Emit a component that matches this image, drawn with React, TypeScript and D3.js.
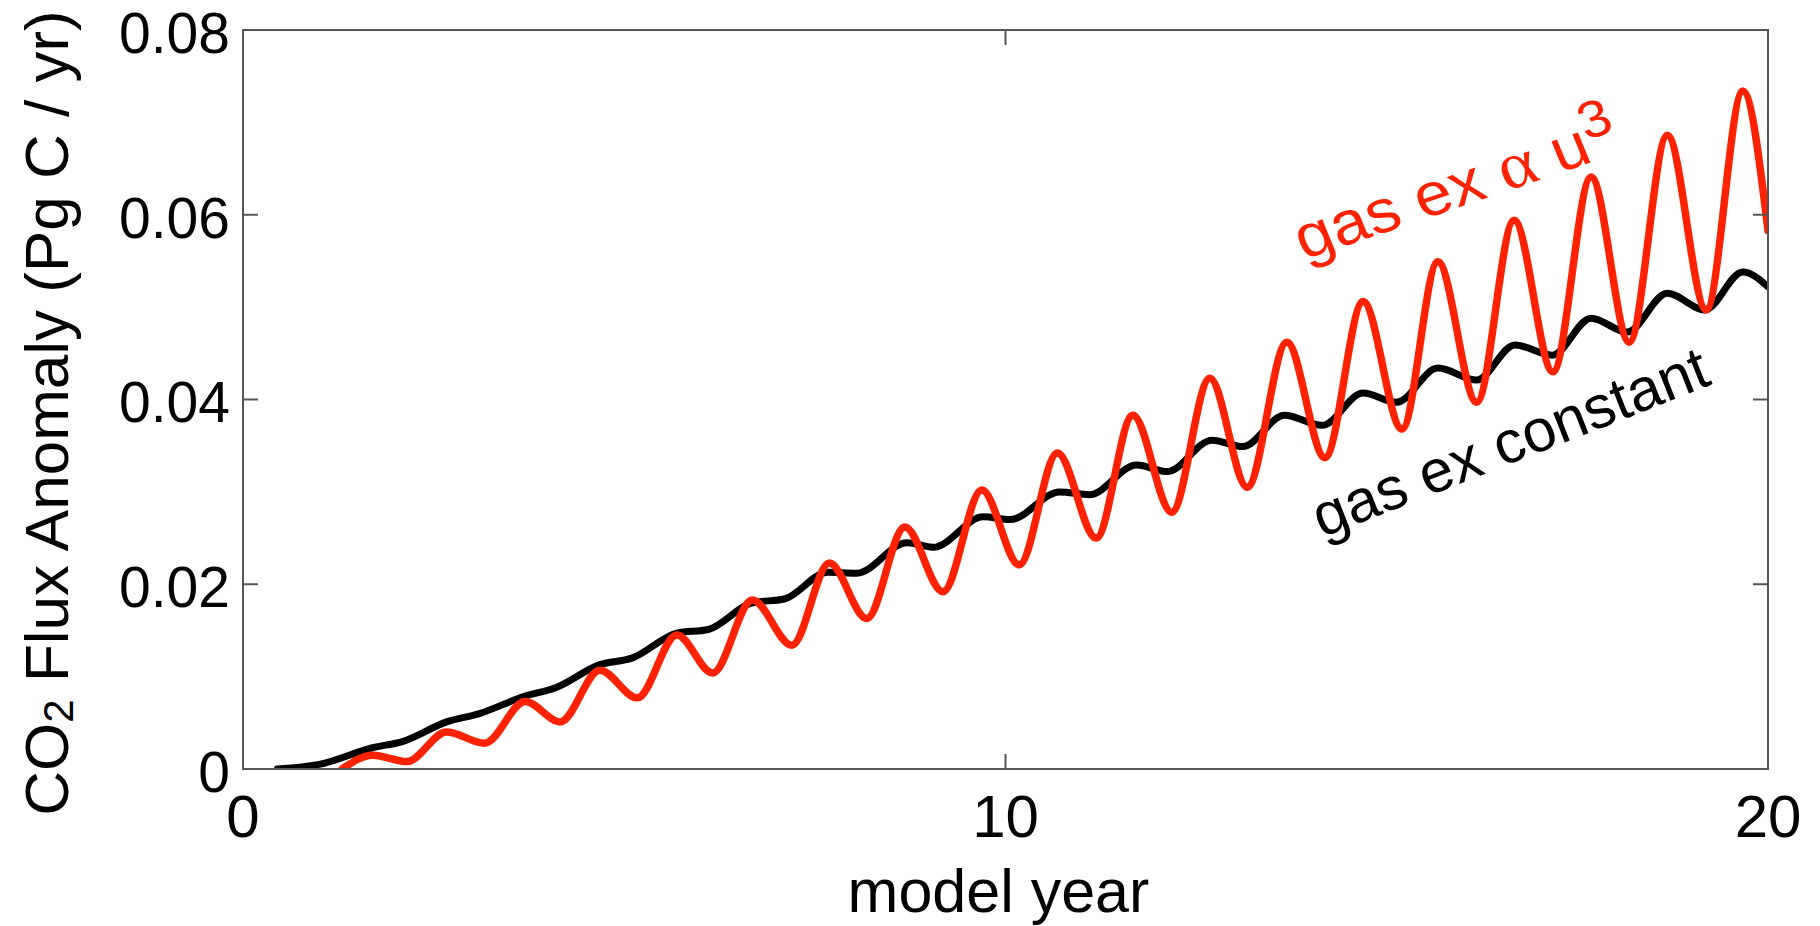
import React from "react";
import * as d3 from "d3";

// black: gas exchange held constant (year, Pg C / yr)
const constYears = [0.45, 1.0, 1.7, 2.1, 2.67, 3.1, 3.7, 4.1, 4.68, 5.1, 5.69, 6.1, 6.68, 7.1, 7.67, 8.05, 8.71, 9.05, 9.71, 10.06, 10.71, 11.1, 11.72, 12.12, 12.71, 13.11, 13.66, 14.15, 14.69, 15.13, 15.67, 16.18, 16.68, 17.17, 17.68, 18.15, 18.68, 19.17, 19.67, 20];
const constFlux = [0, 0.0005, 0.0023, 0.003, 0.0051, 0.006, 0.0079, 0.0088, 0.0113, 0.012, 0.0147, 0.0151, 0.018, 0.0184, 0.0213, 0.0212, 0.0245, 0.024, 0.0273, 0.027, 0.03, 0.0297, 0.0329, 0.0322, 0.0356, 0.0349, 0.0383, 0.0372, 0.0407, 0.0397, 0.0434, 0.0421, 0.0459, 0.0448, 0.0488, 0.0473, 0.0515, 0.0497, 0.0538, 0.0522];

// red: gas exchange proportional to u^3
const u3Years = [1.3, 1.7, 2.15, 2.67, 3.17, 3.7, 4.16, 4.68, 5.17, 5.69, 6.16, 6.68, 7.2, 7.69, 8.18, 8.68, 9.18, 9.69, 10.18, 10.68, 11.19, 11.67, 12.18, 12.68, 13.17, 13.69, 14.19, 14.69, 15.2, 15.67, 16.18, 16.67, 17.18, 17.68, 18.18, 18.68, 19.19, 19.67, 20];
const u3Flux = [0, 0.0015, 0.0008, 0.004, 0.0028, 0.0073, 0.0051, 0.0107, 0.0077, 0.0145, 0.0104, 0.0183, 0.0134, 0.0223, 0.0163, 0.0262, 0.0192, 0.0302, 0.0221, 0.0342, 0.025, 0.0383, 0.0278, 0.0423, 0.0305, 0.0462, 0.0337, 0.0506, 0.0368, 0.0549, 0.0397, 0.0594, 0.043, 0.0641, 0.0462, 0.0686, 0.0497, 0.0734, 0.0583];

const xTicks = [0, 10, 20];
const yTicks = [0, 0.02, 0.04, 0.06, 0.08];
const yTickLabels = ["0", "0.02", "0.04", "0.06", "0.08"];

const W = 1820, H = 926;
const left = 243, right = 1768, top = 30, bottom = 769;
const font = "'Liberation Sans', Arial, Helvetica, sans-serif";
const red = "#ff2200";

export default function App() {
  const x = d3.scaleLinear().domain([0, 20]).range([left, right]);
  const y = d3.scaleLinear().domain([0, 0.08]).range([bottom, top]);

  const line = d3.line<[number, number]>()
    .x(d => x(d[0]))
    .y(d => y(d[1]))
    .curve(d3.curveMonotoneX);

  const blackPts = constYears.map((t, i) => [t, constFlux[i]] as [number, number]);
  const redPts = u3Years.map((t, i) => [t, u3Flux[i]] as [number, number]);

  const tick = 15;
  const axisColor = "#555";

  return (
    <svg width={W} height={H} style={{ position: "absolute", left: 0, top: 0, background: "#fff" }} fontFamily={font}>
      <defs>
        <clipPath id="plot">
          <rect x={left} y={top} width={right - left} height={bottom - top} />
        </clipPath>
      </defs>

      <g clipPath="url(#plot)" fill="none" strokeLinejoin="round" strokeLinecap="round">
        <path d={line(blackPts) || ""} stroke="#000" strokeWidth={7} />
        <path d={line(redPts) || ""} stroke={red} strokeWidth={7.5} />
      </g>

      {/* frame and ticks */}
      <rect x={left} y={top} width={right - left} height={bottom - top} fill="none" stroke={axisColor} strokeWidth={2} />
      {yTicks.map(v => (
        <g key={"yt" + v} stroke={axisColor} strokeWidth={2}>
          <line x1={left} x2={left + tick} y1={y(v)} y2={y(v)} />
          <line x1={right} x2={right - tick} y1={y(v)} y2={y(v)} />
        </g>
      ))}
      {xTicks.map(v => (
        <g key={"xt" + v} stroke={axisColor} strokeWidth={2}>
          <line x1={x(v)} x2={x(v)} y1={bottom} y2={bottom - tick} />
          <line x1={x(v)} x2={x(v)} y1={top} y2={top + tick} />
        </g>
      ))}

      {/* tick labels */}
      {yTicks.map((v, i) => (
        <text key={"yl" + v} x={left - 13} y={y(v)} dy="0.4em" textAnchor="end" fontSize={57} fill="#000">
          {yTickLabels[i]}
        </text>
      ))}
      {xTicks.map(v => (
        <text key={"xl" + v} x={x(v)} y={837} textAnchor="middle" fontSize={60} fill="#000">
          {v}
        </text>
      ))}

      {/* axis titles */}
      <text x={(left + right) / 2 - 7} y={912} textAnchor="middle" fontSize={61} fill="#000">model year</text>
      <text transform={`translate(68, 413) rotate(-90)`} textAnchor="middle" fontSize={62} fill="#000">
        CO<tspan fontSize={42} dy={5}>2</tspan><tspan dy={-5}> Flux Anomaly (Pg C / yr)</tspan>
      </text>

      {/* series labels (slightly widened, as in the original figure) */}
      <text transform="translate(1304, 260) scale(1.1, 1) rotate(-20.5)" fontSize={61} fill={red}>
        gas ex <tspan fontFamily="'Liberation Serif', 'DejaVu Serif', serif" fontSize={66}>α</tspan> u<tspan fontSize={52} dy={-22}>3</tspan>
      </text>
      <text transform="translate(1322, 538) rotate(-21.5)" fontSize={60} fill="#000">
        gas ex constant
      </text>
    </svg>
  );
}
